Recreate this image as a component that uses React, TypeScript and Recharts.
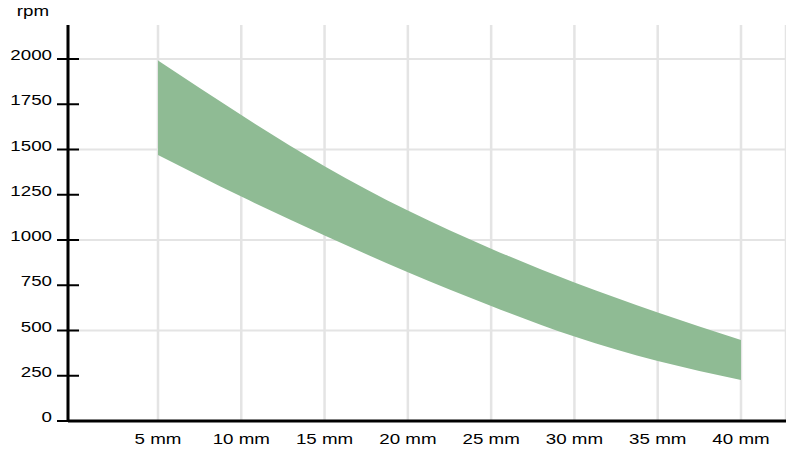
import React from 'react';
import { AreaChart, Area, XAxis, YAxis, CartesianGrid } from 'recharts';

// tool diameter (mm) and speed band (rpm)
const sizes = [5, 10, 15, 20, 25, 30, 35, 40];
const rpmLow = [1470, 1240, 1025, 822, 636, 467, 332, 227];
const rpmHigh = [1992, 1690, 1408, 1163, 952, 765, 600, 447];

const yTicks = [0, 250, 500, 750, 1000, 1250, 1500, 1750, 2000];
const gridValues = [500, 1000, 1500, 2000];
const yMax = 2000;
const padTop = 34;

const data = sizes.map((s, i) => ({ size: s, band: [rpmLow[i], rpmHigh[i]] }));

const FONT = '"Liberation Sans", Arial, Helvetica, sans-serif';

// only every other tick gets a grid line
const gridRows = ({ yAxis, offset }: any) => {
  if (yAxis && typeof yAxis.scale === 'function') return gridValues.map((v) => yAxis.scale(v));
  const top = offset.top + padTop;
  const h = offset.height - padTop;
  return gridValues.map((v) => top + (1 - v / yMax) * h);
};

const YTick = (props: any) => {
  const { x, y, payload } = props;
  return (
    <g>
      <line x1={x - 11} x2={x + 11} y1={y} y2={y} stroke="#000" strokeWidth={2} />
      <text
        transform={`translate(${x - 16},${y + 1}) scale(1.25,1)`}
        textAnchor="end"
        fontSize={15}
        fontFamily={FONT}
        fill="#000"
      >
        {payload.value}
      </text>
    </g>
  );
};

const XTick = (props: any) => {
  const { x, y, payload } = props;
  return (
    <text
      transform={`translate(${x},${y + 23}) scale(1.25,1)`}
      textAnchor="middle"
      fontSize={15}
      fontFamily={FONT}
      fill="#000"
    >
      {`${payload.value} mm`}
    </text>
  );
};

const App: React.FC = () => {
  return (
    <div style={{ position: 'absolute', left: 0, top: 0, background: '#fff' }}>
      <AreaChart
        width={786}
        height={459}
        data={data}
        margin={{ top: 25, right: 0, left: 0, bottom: 0 }}
      >
        <CartesianGrid
          vertical={false}
          stroke="#e4e4e4"
          strokeWidth={2}
          horizontalCoordinatesGenerator={gridRows}
        />
        <CartesianGrid horizontal={false} stroke="#e4e4e4" strokeWidth={2.5} />
        <XAxis
          dataKey="size"
          type="number"
          domain={[5, 40]}
          ticks={sizes}
          padding={{ left: 90, right: 45 }}
          tickLine={false}
          tickSize={0}
          tickMargin={0}
          height={38}
          axisLine={{ stroke: '#000', strokeWidth: 3 }}
          tick={<XTick />}
        />
        <YAxis
          type="number"
          domain={[0, yMax]}
          ticks={yTicks}
          padding={{ top: padTop, bottom: 0 }}
          width={68}
          tickLine={false}
          tickSize={0}
          tickMargin={0}
          axisLine={{ stroke: '#000', strokeWidth: 3 }}
          tick={<YTick />}
          label={{
            content: () => (
              <text
                transform="translate(33,16) scale(1.25,1)"
                textAnchor="middle"
                fontSize={15}
                fontFamily={FONT}
                fill="#000"
              >
                rpm
              </text>
            ),
          }}
        />
        <Area
          type="natural"
          dataKey="band"
          stroke="none"
          fill="#8fbb94"
          fillOpacity={1}
          isAnimationActive={false}
        />
      </AreaChart>
    </div>
  );
};

export default App;
